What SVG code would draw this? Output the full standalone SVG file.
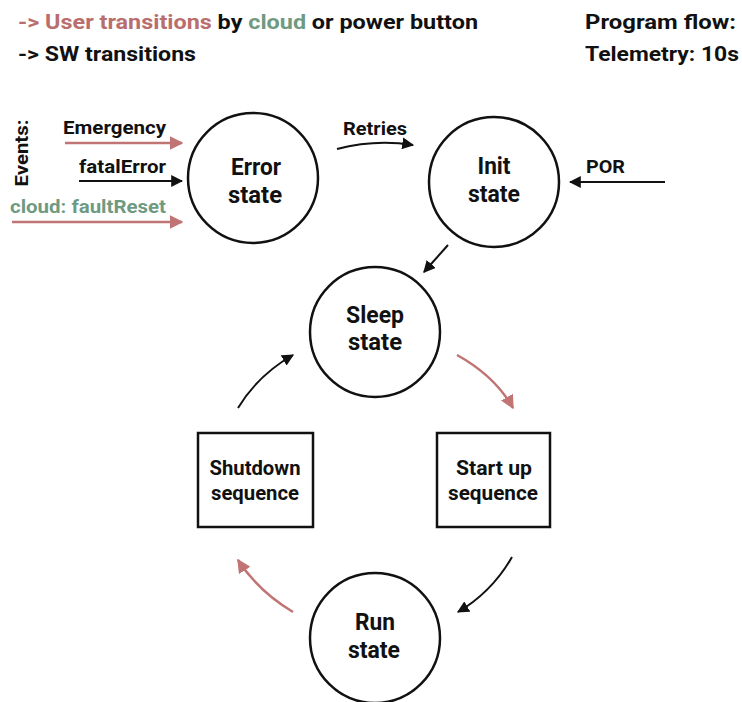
<svg xmlns="http://www.w3.org/2000/svg" width="742" height="702" viewBox="0 0 742 702">
  <style>
    text { font-family: Roboto, "Liberation Sans", sans-serif; font-weight: bold; fill: #111; }
    .hdr { font-size: 21px; }
    .lbl { font-size: 19px; }
    .node { font-size: 23px; text-anchor: middle; }
    .box { font-size: 21px; text-anchor: middle; }
    .user { fill: #b96d6d; }
    .cloud { fill: #6f9a82; }
    .shape { fill: #fff; stroke: #111; stroke-width: 2.5; }
    .sw { fill: none; stroke: #111; stroke-width: 2; }
    .usr { fill: none; stroke: #c07474; stroke-width: 2.5; }
  </style>
  <defs>
    <marker id="ah-black" viewBox="0 0 10 10" refX="9" refY="5" markerWidth="6" markerHeight="6" orient="auto" markerUnits="strokeWidth">
      <path d="M0,0 L10,5 L0,10 z" fill="#111"/>
    </marker>
    <marker id="ah-red" viewBox="0 0 10 10" refX="9" refY="5" markerWidth="5.5" markerHeight="5.5" orient="auto" markerUnits="strokeWidth">
      <path d="M0,0 L10,5 L0,10 z" fill="#c07474"/>
    </marker>
  </defs>
  <rect width="742" height="702" fill="#fff"/>

  <!-- legend -->
  <g id="legend">
    <text class="hdr" x="18" y="29" textLength="460" lengthAdjust="spacingAndGlyphs"><tspan class="user">-&gt; User transitions</tspan> by <tspan class="cloud">cloud</tspan> or power button</text>
    <text class="hdr" x="18" y="61" textLength="178" lengthAdjust="spacingAndGlyphs">-&gt; SW transitions</text>
    <text class="hdr" x="585" y="29" textLength="151" lengthAdjust="spacingAndGlyphs">Program flow:</text>
    <text class="hdr" x="585" y="61" textLength="154" lengthAdjust="spacingAndGlyphs">Telemetry: 10s</text>
  </g>

  <!-- external event labels -->
  <g id="events">
    <text class="lbl" transform="translate(28,153) rotate(-90)" text-anchor="middle" textLength="67" lengthAdjust="spacingAndGlyphs">Events:</text>
    <text class="lbl" x="63" y="134" textLength="103" lengthAdjust="spacingAndGlyphs">Emergency</text>
    <text class="lbl" x="79" y="173" textLength="87" lengthAdjust="spacingAndGlyphs">fatalError</text>
    <text class="lbl cloud" x="10" y="213" textLength="156" lengthAdjust="spacingAndGlyphs">cloud: faultReset</text>
    <text class="lbl" x="343" y="135" textLength="64" lengthAdjust="spacingAndGlyphs">Retries</text>
    <text class="lbl" x="586" y="173" textLength="39" lengthAdjust="spacingAndGlyphs">POR</text>
  </g>

  <!-- states -->
  <g id="error-state">
    <circle class="shape" cx="253" cy="178" r="65"/>
    <text class="node" x="256" y="175" textLength="50" lengthAdjust="spacingAndGlyphs">Error</text>
    <text class="node" x="255" y="203" textLength="54" lengthAdjust="spacingAndGlyphs">state</text>
  </g>
  <g id="init-state">
    <circle class="shape" cx="494" cy="182" r="65"/>
    <text class="node" x="494" y="174" textLength="33" lengthAdjust="spacingAndGlyphs">Init</text>
    <text class="node" x="494" y="202" textLength="52" lengthAdjust="spacingAndGlyphs">state</text>
  </g>
  <g id="sleep-state">
    <circle class="shape" cx="375" cy="332" r="65"/>
    <text class="node" x="375" y="323" textLength="58" lengthAdjust="spacingAndGlyphs">Sleep</text>
    <text class="node" x="375" y="350" textLength="54" lengthAdjust="spacingAndGlyphs">state</text>
  </g>
  <g id="run-state">
    <circle class="shape" cx="375" cy="638" r="65"/>
    <text class="node" x="375" y="630" textLength="40" lengthAdjust="spacingAndGlyphs">Run</text>
    <text class="node" x="374" y="658" textLength="52" lengthAdjust="spacingAndGlyphs">state</text>
  </g>
  <g id="shutdown-sequence">
    <rect class="shape" x="198" y="433" width="115" height="94"/>
    <text class="box" x="255" y="475" textLength="91" lengthAdjust="spacingAndGlyphs">Shutdown</text>
    <text class="box" x="255" y="500" textLength="88" lengthAdjust="spacingAndGlyphs">sequence</text>
  </g>
  <g id="startup-sequence">
    <rect class="shape" x="437" y="433" width="113" height="94"/>
    <text class="box" x="494" y="475" textLength="76" lengthAdjust="spacingAndGlyphs">Start up</text>
    <text class="box" x="493" y="500" textLength="90" lengthAdjust="spacingAndGlyphs">sequence</text>
  </g>

  <!-- transitions -->
  <g id="connectors">
    <line class="usr" x1="65" y1="143" x2="182" y2="143" marker-end="url(#ah-red)"/>
    <line class="sw" x1="79" y1="181" x2="182" y2="181" marker-end="url(#ah-black)"/>
    <line class="usr" x1="12" y1="222" x2="182" y2="222" marker-end="url(#ah-red)"/>
    <path class="sw" d="M337,149 Q375,139 413,145" marker-end="url(#ah-black)"/>
    <line class="sw" x1="665" y1="182" x2="570" y2="182" marker-end="url(#ah-black)"/>
    <line class="sw" x1="448" y1="245" x2="424" y2="272" marker-end="url(#ah-black)"/>
    <path class="usr" d="M457,355 Q495,376 513,408" marker-end="url(#ah-red)"/>
    <path class="sw" d="M512,557 Q492,592 458,612" marker-end="url(#ah-black)"/>
    <path class="usr" d="M293,612 Q258,591 238,560" marker-end="url(#ah-red)"/>
    <path class="sw" d="M238,408 Q258,375 293,355" marker-end="url(#ah-black)"/>
  </g>
</svg>
